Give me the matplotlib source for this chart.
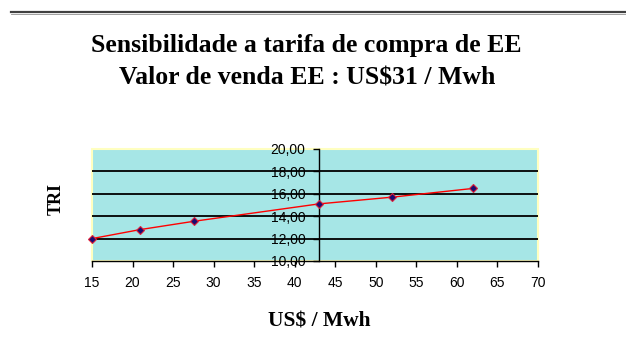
import matplotlib
matplotlib.use("Agg")
import matplotlib.pyplot as plt
from matplotlib.lines import Line2D
from matplotlib.patches import Rectangle
from matplotlib.ticker import FuncFormatter

# tarifa de compra (US$/Mwh) x TRI
tarifa = [15.0, 20.9, 27.6, 43.0, 52.0, 62.0]
tri = [12.00, 12.80, 13.55, 15.10, 15.70, 16.48]

xticks = list(range(15, 75, 5))
yticks = [10, 12, 14, 16, 18, 20]

fig = plt.figure(figsize=(6.26, 3.44), dpi=100)
fig.patch.set_facecolor("white")

# linha dupla no topo da pagina
fig.add_artist(Line2D([11/626, 1.0], [1-12/344, 1-12/344], color="#404040", lw=1.6))
fig.add_artist(Line2D([11/626, 1.0], [1-13.5/344, 1-13.5/344], color="#909090", lw=0.6))

ax = fig.add_axes([92/626, 1-261/344, 446/626, 112/344])
ax.set_facecolor("#A6E6E6")

ax.set_xlim(15, 70)
ax.set_ylim(10, 20)

for y in yticks[1:-1]:
    ax.axhline(y, color="black", lw=1.3, zorder=1)

ax.plot(tarifa, tri, color="red", lw=1.0, zorder=3, clip_on=False)
ax.plot(tarifa, tri, ls="none", marker="D", ms=4, mfc="#1a0a70", mec="#e0203a",
        mew=0.8, zorder=4, clip_on=False)

# eixo Y cruzando em x = 43
ax.spines["left"].set_position(("data", 43))
ax.spines["left"].set_color("black")
ax.spines["left"].set_linewidth(1.0)
ax.spines["top"].set_visible(False)
ax.spines["right"].set_visible(False)
ax.spines["bottom"].set_color("black")
ax.spines["bottom"].set_linewidth(1.0)
ax.add_patch(Rectangle((0, 0), 1, 1, transform=ax.transAxes, fill=False,
                       edgecolor="#FFFFC0", lw=1.5, zorder=0.5, clip_on=False))

ax.set_xticks(xticks)
ax.set_yticks(yticks)
ax.yaxis.set_major_formatter(FuncFormatter(lambda v, p: f"{v:.2f}".replace(".", ",")))
ax.tick_params(axis="x", direction="out", length=4, width=1, pad=6.5,
               labelsize=10, labelfontfamily="Liberation Sans")
ax.tick_params(axis="y", direction="out", length=4.3, width=1, pad=5.5,
               labelsize=10, labelfontfamily="Liberation Sans")

fig.text(0.49, 1-52/344, "Sensibilidade a tarifa de compra de EE", ha="center", va="baseline",
         fontsize=18.5, fontweight="bold", family="Liberation Serif")
fig.text(0.49, 1-85/344, "Valor de venda EE : US$31 / Mwh", ha="center", va="baseline",
         fontsize=18.5, fontweight="bold", family="Liberation Serif")
fig.text(319/626, 1-326/344, "US$ / Mwh", ha="center", va="baseline",
         fontsize=15.5, fontweight="bold", family="Liberation Serif")
fig.text(56/626, 1-199/344, "TRI", ha="center", va="center", rotation=90,
         fontsize=13, fontweight="bold", family="Liberation Serif")

fig.savefig("out.png", dpi=100)
